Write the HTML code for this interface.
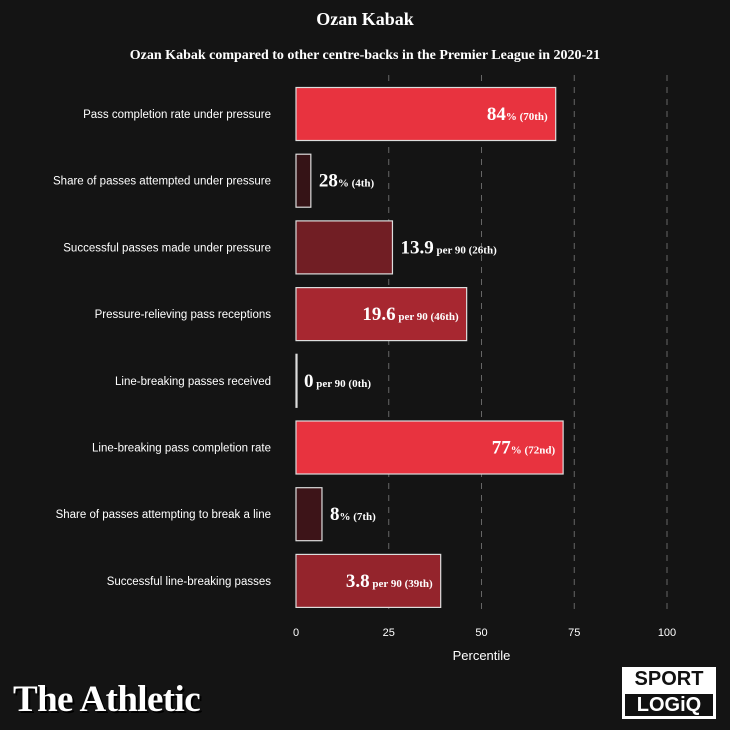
<!DOCTYPE html>
<html><head><meta charset="utf-8"><style>
html,body{margin:0;padding:0;background:#141414;}
#c{width:730px;height:730px;position:relative;background:#141414;overflow:hidden;font-family:"Liberation Sans",sans-serif;}
.t{position:absolute;color:#fff;}
</style></head><body>
<div id="c">
<div class="t" style="left:0;width:730px;top:9px;text-align:center;font-family:'Liberation Serif',serif;font-weight:bold;font-size:18px;">Ozan Kabak</div>
<div class="t" style="left:0;width:730px;top:48px;text-align:center;font-family:'Liberation Serif',serif;font-weight:bold;font-size:14px;">Ozan Kabak compared to other centre-backs in the Premier League in 2020-21</div>
<svg id="s" width="730" height="730" style="position:absolute;left:0;top:0"></svg>
<div class="t" style="left:13px;top:678px;font-family:'Liberation Serif',serif;font-weight:bold;font-size:37px;letter-spacing:-0.6px;text-shadow:2px 2px 0 #000;">The Athletic</div>
<div style="position:absolute;left:622px;top:667px;width:94px;height:52px;background:#fff;">
<div style="position:absolute;left:0;top:1px;width:94px;text-align:center;font-weight:bold;font-size:20px;color:#111;">SPORT</div>
<div style="position:absolute;left:3px;top:27px;width:88px;height:22px;background:#111;color:#fff;text-align:center;font-weight:bold;font-size:20px;line-height:22px;">LOGiQ</div>
</div>
</div>
<script>
const categories=["Pass completion rate under pressure","Share of passes attempted under pressure","Successful passes made under pressure","Pressure-relieving pass receptions","Line-breaking passes received","Line-breaking pass completion rate","Share of passes attempting to break a line","Successful line-breaking passes"];
const percentiles=[70,4,26,46,0,72,7,39];
const values=["84","28","13.9","19.6","0","77","8","3.8"];
const units=["%","%"," per 90"," per 90"," per 90","%","%"," per 90"];
const ranks=["70th","4th","26th","46th","0th","72nd","7th","39th"];
const ticks=[0,25,50,75,100];
const NS="http://www.w3.org/2000/svg";
const svg=document.getElementById('s');
const x=v=>296+v*3.71;
const yc=i=>114+i*66.7;
function mk(t,a){const e=document.createElementNS(NS,t);for(const k in a)e.setAttribute(k,a[k]);svg.appendChild(e);return e;}
function col(p){const t=Math.min(p/70,1);const a=[42,17,20],b=[232,51,63];return `rgb(${a.map((v,i)=>Math.round(v+(b[i]-v)*t)).join(',')})`;}
ticks.forEach(t=>{
 if(t>0){const l=mk('line',{x1:x(t),x2:x(t),y1:75,y2:615,stroke:'#666','stroke-dasharray':'6,6','stroke-width':1});
 }
 const tx=mk('text',{x:x(t),y:636,fill:'#fff','font-size':11,'text-anchor':'middle','font-family':'Liberation Sans, sans-serif'});
 tx.textContent=t;
});
const xt=mk('text',{x:x(50),y:660,fill:'#fff','font-size':13,'text-anchor':'middle','font-family':'Liberation Sans, sans-serif'});
xt.textContent='Percentile';
categories.forEach((c,i)=>{
 const y=yc(i);
 const lb=mk('text',{x:271,y:y+4,fill:'#fff','font-size':11.5,'text-anchor':'end','font-family':'Liberation Sans, sans-serif'});
 lb.textContent=c;
 const w=Math.max(x(percentiles[i])-x(0),1);
 const r=mk('rect',{x:x(0),y:y-26.5,width:w,height:53,fill:col(percentiles[i]),stroke:'#ddd','stroke-width':1.2});
 
 const inside=percentiles[i]>=35;
 const t=mk('text',{x:inside?x(percentiles[i])-8:x(percentiles[i])+8,y:y+6,fill:'#fff','text-anchor':inside?'end':'start','font-family':'Liberation Serif, serif','font-weight':'bold'});
 
 const a=document.createElementNS(NS,'tspan');a.setAttribute('font-size',19);a.textContent=values[i];t.appendChild(a);
 const b=document.createElementNS(NS,'tspan');b.setAttribute('font-size',11);b.textContent=units[i]+' ('+ranks[i]+')';t.appendChild(b);
});
</script>
</body></html>
